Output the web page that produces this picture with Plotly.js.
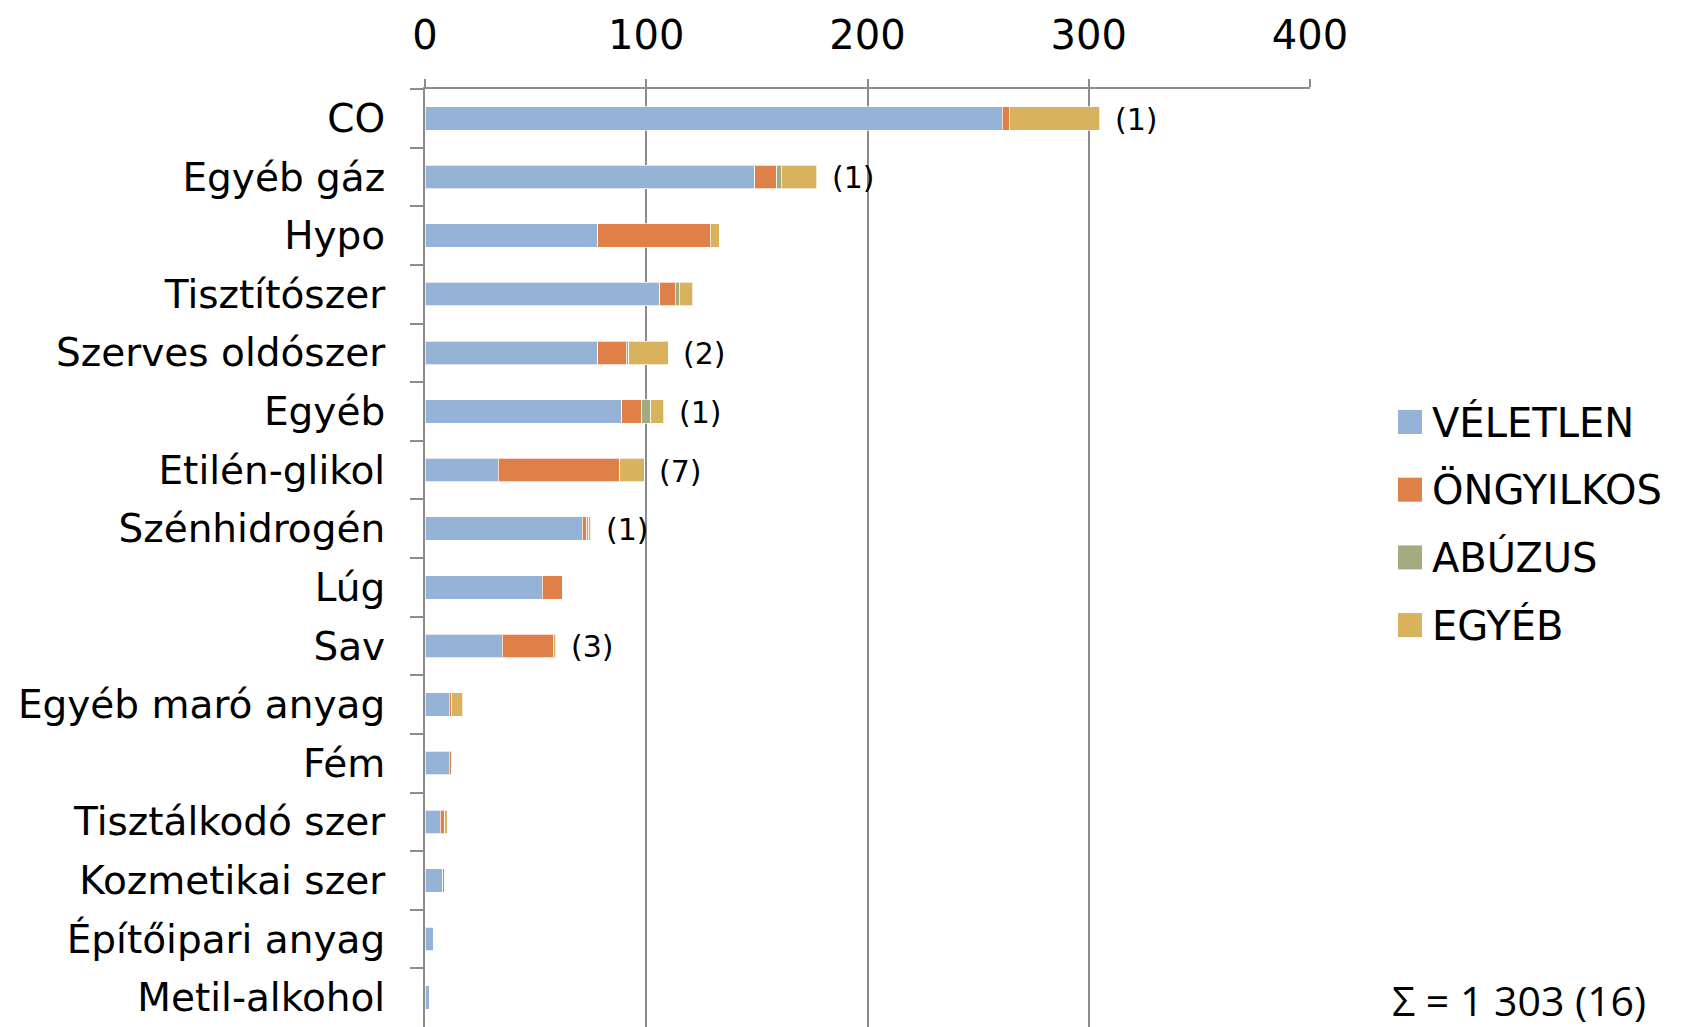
<!DOCTYPE html>
<html>
<head>
<meta charset="utf-8">
<script src="https://cdn.plot.ly/plotly-3.0.1.min.js"></script>
<style>
  html, body { margin: 0; padding: 0; background: #fff; }
  #chart { width: 1686px; height: 1027px; }
</style>
</head>
<body>
<div id="chart"></div>
<script>
// ---- data ----
const categories = ["CO", "Egyéb gáz", "Hypo", "Tisztítószer", "Szerves oldószer", "Egyéb",
  "Etilén-glikol", "Szénhidrogén", "Lúg", "Sav", "Egyéb maró anyag", "Fém",
  "Tisztálkodó szer", "Kozmetikai szer", "Építőipari anyag", "Metil-alkohol"];
const seriesNames = ["VÉLETLEN", "ÖNGYILKOS", "ABÚZUS", "EGYÉB"];
const veletlen   = [261, 149, 78, 106, 78, 89, 33, 71, 53, 35, 11, 11, 7, 8, 4, 2];
const ongyilkos  = [3, 10, 51, 7, 13, 9, 55, 2, 9, 23, 1, 1, 2, 1, 0, 0];
const abuzus     = [0, 2, 0, 2, 1, 4, 0, 1, 0, 0, 0, 0, 0, 0, 0, 0];
const egyeb      = [41, 16, 4, 6, 18, 6, 11, 1, 0, 1, 5, 0, 1, 0, 0, 0];
const noteLabels = ["(1)", "(1)", "", "", "(2)", "(1)", "(7)", "(1)", "", "(3)", "", "", "", "", "", ""];
const xTicks = [0, 100, 200, 300, 400];
const sumLabel = "Σ = 1 303 (16)";

// ---- styles ----
const colors = ["#95B3D7", "#DE8048", "#A3AC80", "#D8B25C"];
const FONT = "DejaVu Sans, Open Sans, sans-serif";
const FONT2 = "Open Sans, Noto Sans, sans-serif";
const W = 1686, H = 1027;
const M = {l: 425, r: 376, t: 89, b: 0};
const PW = W - M.l - M.r, PH = H - M.t - M.b;

const seriesValues = [veletlen, ongyilkos, abuzus, egyeb];
const traces = seriesNames.map((name, i) => ({
  type: "bar",
  orientation: "h",
  name: name,
  y: categories,
  x: seriesValues[i],
  marker: {color: colors[i], line: {color: "rgba(255,255,255,0.7)", width: 1}},
  hoverinfo: "x+y+name"
}));

const totals = categories.map((c, k) => seriesValues.reduce((s, arr) => s + arr[k], 0));

const annotations = [];
categories.forEach((c, k) => {
  if (noteLabels[k]) {
    annotations.push({
      x: totals[k], y: c, xref: "x", yref: "y",
      text: noteLabels[k], showarrow: false,
      xanchor: "left", yanchor: "middle", xshift: 13, yshift: -1,
      font: {family: FONT, size: 30, color: "#000"}
    });
  }
});

// custom legend (paper coords from pixel positions)
const px2x = px => (px - M.l) / PW;
const py2y = py => (H - M.b - py) / PH;
const legLeft = 1398, legSize = 24, legTextX = 1430;
const legY0 = 422, legStep = 67.7;
const shapes = [];
seriesNames.forEach((name, i) => {
  const cy = legY0 + i * legStep;
  shapes.push({
    type: "rect", xref: "paper", yref: "paper",
    x0: px2x(legLeft), x1: px2x(legLeft + legSize),
    y0: py2y(cy + legSize / 2), y1: py2y(cy - legSize / 2),
    fillcolor: colors[i], line: {width: 0}
  });
  annotations.push({
    xref: "paper", yref: "paper", x: px2x(legTextX), y: py2y(cy),
    text: name, showarrow: false, xanchor: "left", yanchor: "middle",
    font: {family: FONT, size: 40, color: "#000"}
  });
});
annotations.push({
  xref: "paper", yref: "paper", x: px2x(1390), y: py2y(1000),
  text: sumLabel, showarrow: false, xanchor: "left", yanchor: "middle",
  font: {family: FONT2, size: 41, color: "#000"}
});

const layout = {
  width: W, height: H,
  margin: M,
  barmode: "stack",
  bargap: 0.6,
  showlegend: false,
  paper_bgcolor: "#fff", plot_bgcolor: "#fff",
  font: {family: FONT, color: "#000"},
  xaxis: {
    side: "top", range: [0, 400], tickvals: xTicks, ticktext: xTicks.map(String),
    showgrid: true, gridcolor: "#8c8c8c", gridwidth: 2,
    showline: true, linecolor: "#8c8c8c", linewidth: 2,
    ticks: "outside", ticklen: 8, tickcolor: "#8c8c8c", tickwidth: 2,
    zeroline: false, ticklabelstandoff: 14,
    tickfont: {family: FONT, size: 40, color: "#000"}
  },
  yaxis: {
    type: "category", categoryorder: "array", categoryarray: categories,
    autorange: "reversed",
    showline: true, linecolor: "#8c8c8c", linewidth: 2,
    ticks: "outside", tickson: "boundaries", ticklen: 13, tickcolor: "#8c8c8c", tickwidth: 2,
    showgrid: false, zeroline: false, ticklabelstandoff: 30,
    tickfont: {family: FONT, size: 39, color: "#000"}
  },
  annotations: annotations,
  shapes: shapes
};

Plotly.newPlot("chart", traces, layout, {displayModeBar: false, staticPlot: true});
</script>
</body>
</html>
